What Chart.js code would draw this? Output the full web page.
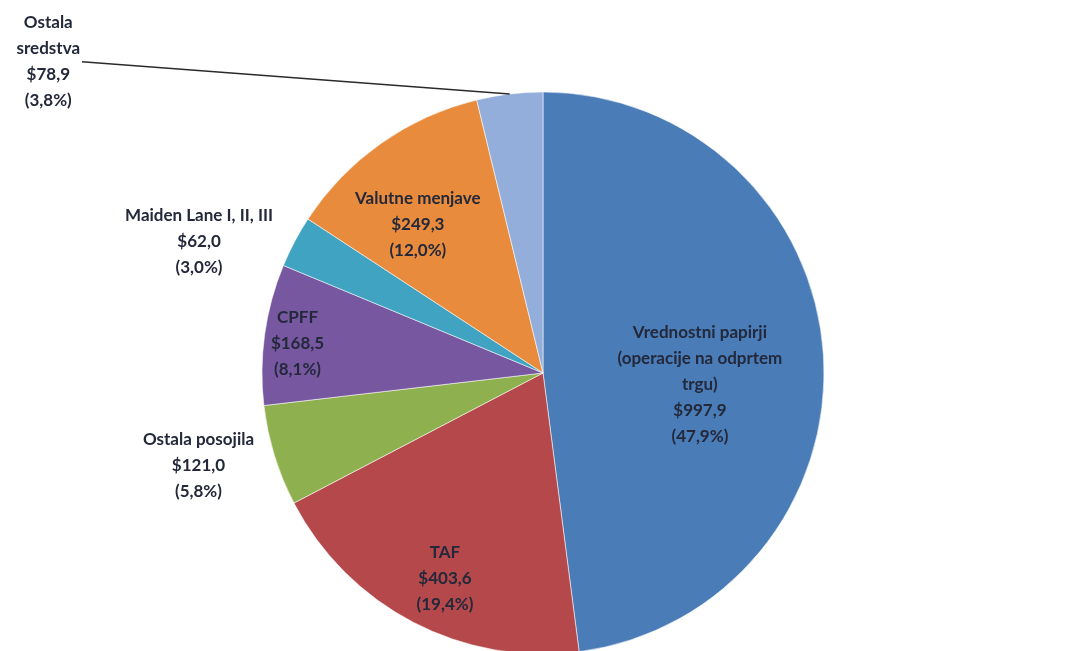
<!DOCTYPE html>
<html>
<head>
<meta charset="utf-8">
<script src="https://cdn.jsdelivr.net/npm/chart.js"></script>
<style>
  html, body { margin: 0; padding: 0; background: #fff; overflow: hidden; }
  #wrap { width: 1084px; height: 651px; position: relative; }
</style>
</head>
<body>
<div id="wrap"><canvas id="pie"></canvas></div>
<script>
// data (billions of $)
const categories = ['Vrednostni papirji (operacije na odprtem trgu)', 'TAF', 'Ostala posojila', 'CPFF',
                    'Maiden Lane I, II, III', 'Valutne menjave', 'Ostala sredstva'];
const labelLines = [['Vrednostni papirji', '(operacije na odprtem', 'trgu)'], ['TAF'], ['Ostala posojila'],
                    ['CPFF'], ['Maiden Lane I, II, III'], ['Valutne menjave'], ['Ostala', 'sredstva']];
const values = [997.9, 403.6, 121.0, 168.5, 62.0, 249.3, 78.9];
const shares = [47.9, 19.4, 5.8, 8.1, 3.0, 12.0, 3.8];
const colors = ['#4a7cb7', '#b5484a', '#8fb04f', '#7657a0', '#3fa3c1', '#e88b3c', '#93aedb'];

// label placement: fraction of radius along the slice middle, plus angle shift (deg)
const labelRadius = [0.56, 0.81, 1.27, 0.88, 1.31, 0.69, 2.08];
const labelShift = [8, -2, 2, -1, -7, -5, -51];
const leader = [false, false, false, false, false, false, true];

const fmt = v => v.toFixed(1).replace('.', ',');

const labelPlugin = {
  id: 'sliceLabels',
  afterDatasetsDraw(chart) {
    const ctx = chart.ctx;
    const arcs = chart.getDatasetMeta(0).data;
    const lh = 26;
    ctx.save();
    ctx.font = 'bold 17px Lato, "Open Sans", sans-serif';
    ctx.fillStyle = '#23283a';
    ctx.textAlign = 'center';
    ctx.textBaseline = 'middle';
    arcs.forEach((arc, i) => {
      const mid = (arc.startAngle + arc.endAngle) / 2;
      const a = mid + labelShift[i] * Math.PI / 180;
      const r = arc.outerRadius * labelRadius[i];
      const lx = arc.x + Math.cos(a) * r;
      const ly = arc.y + Math.sin(a) * r;
      const lines = labelLines[i].concat(['$' + fmt(values[i]), '(' + fmt(shares[i]) + '%)']);
      const top = ly - (lines.length - 1) * lh / 2;
      let w = 0;
      lines.forEach((t, k) => {
        ctx.fillText(t, lx, top + k * lh);
        w = Math.max(w, ctx.measureText(t).width);
      });
      if (leader[i]) {
        ctx.strokeStyle = '#2a2a2a';
        ctx.lineWidth = 1.3;
        ctx.beginPath();
        ctx.moveTo(lx + w / 2 + 2, ly);
        ctx.lineTo(arc.x + Math.cos(mid) * arc.outerRadius, arc.y + Math.sin(mid) * arc.outerRadius);
        ctx.stroke();
      }
    });
    ctx.restore();
  }
};

new Chart(document.getElementById('pie'), {
  type: 'pie',
  data: {
    labels: categories,
    datasets: [{
      data: values,
      backgroundColor: colors,
      borderColor: 'rgba(255,255,255,0.55)',
      borderWidth: 1,
      radius: 281
    }]
  },
  options: {
    responsive: true,
    maintainAspectRatio: false,
    animation: false,
    layout: { padding: { top: 95, bottom: 0, left: 2, right: 0 } },
    plugins: { legend: { display: false }, tooltip: { enabled: false } }
  },
  plugins: [labelPlugin]
});
</script>
</body>
</html>
